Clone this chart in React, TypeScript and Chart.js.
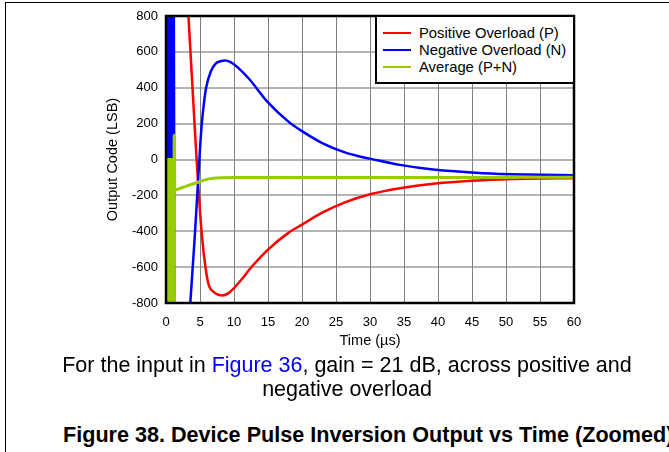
import React, { useEffect, useRef, useState } from "react";
import { Chart, registerables } from "chart.js";

Chart.register(...registerables);

// ---- data ----
const xTickValues = [0, 5, 10, 15, 20, 25, 30, 35, 40, 45, 50, 55, 60];
const yTickValues = [-800, -600, -400, -200, 0, 200, 400, 600, 800];

const seriesNames = ["Positive Overload (P)", "Negative Overload (N)", "Average (P+N)"];
const seriesColors = ["#ff0000", "#0000ff", "#99cc00"];

// initial overload burst (0 - 1.2 us)
const burstT = [0.15, 0.2, 0.25, 0.3, 0.35, 0.4, 0.45, 0.5, 0.55, 0.6, 0.65, 0.7, 0.75, 0.8, 0.85, 0.9, 0.95, 1.0, 1.05, 1.1, 1.15, 1.2];
const blueBurstV = [900, 0, 900, 0, 900, 0, 900, 0, 900, 0, 900, 0, 900, 0, 900, 0, 900, 0, 900, 0, 900, 0];
const greenBurstV = [-900, 0, -900, 0, -900, 0, -900, 0, -900, 0, -900, 0, -900, 0, -900, 0, -900, 0, -900, 0, -900, 135];

const redT = [1.2, 2.5, 3.3, 4.0, 4.5, 5.25, 5.85, 6.33, 7.0, 7.7, 8.3, 9.2, 10.7, 12.7, 15, 18, 20, 22.9, 26.4, 30, 34.4, 39.3, 46.6, 53, 60];
const redV = [3000, 1330, 800, 332, 0, -411, -613, -705, -738, -754, -758, -745, -687, -594, -502, -409, -363, -298, -238, -194, -160, -135, -116, -108, -104];

const blueT = [1.22, 3.0, 3.6, 4.26, 4.75, 5.2, 5.6, 5.9, 6.6, 7.3, 8.0, 8.67, 9.5, 10.5, 12.2, 15, 18, 20, 22.9, 26.4, 28.5, 30, 34.4, 39.3, 46.6, 53, 60];
const blueV = [-3000, -1130, -785, -411, -97, 170, 320, 400, 492, 535, 548, 552, 543, 515, 450, 318, 211, 158, 93, 38, 17, 5, -30, -56, -76, -84, -88];

const greenT = [1.3, 2.0, 3.0, 4.4, 5.9, 7.0, 8.0, 10, 15, 20, 25, 30, 35, 40, 45, 50, 55, 60];
const greenV = [-170, -162, -148, -131, -112, -105, -102, -100, -100, -101, -100, -101, -100, -100, -100, -100, -99, -99];

const FONT = '"Liberation Sans", Arial, sans-serif';

function pts(t: number[], v: number[]) {
  return t.map((x, i) => ({ x, y: v[i] }));
}

const framePlugin = {
  id: "frameBox",
  afterDatasetsDraw(chart: any) {
    const { ctx, chartArea } = chart;
    const { left, top, right, bottom } = chartArea;
    ctx.save();
    ctx.strokeStyle = "#000";
    ctx.lineWidth = 2.5;
    ctx.strokeRect(left, top, right - left, bottom - top);
    ctx.restore();
  },
};

type GridInfo = { xs: number[]; ys: number[]; left: number; top: number; right: number; bottom: number };

function ChartCanvas({ onGrid }: { onGrid: (g: GridInfo) => void }) {
  const ref = useRef<HTMLCanvasElement>(null);

  useEffect(() => {
    if (!ref.current) return;
    const red = pts(redT, redV);
    const blue = pts(burstT, blueBurstV).concat(pts(blueT, blueV));
    const green = pts(burstT, greenBurstV).concat(pts(greenT, greenV));
    const chart = new Chart(ref.current, {
      type: "line",
      data: {
        datasets: [
          { label: seriesNames[2], data: green, borderColor: seriesColors[2], borderWidth: 3, pointRadius: 0, cubicInterpolationMode: "monotone", order: 0 },
          { label: seriesNames[1], data: blue, borderColor: seriesColors[1], borderWidth: 2.5, pointRadius: 0, cubicInterpolationMode: "monotone", order: 1 },
          { label: seriesNames[0], data: red, borderColor: seriesColors[0], borderWidth: 2.5, pointRadius: 0, cubicInterpolationMode: "monotone", order: 2 },
        ],
      },
      options: {
        animation: false,
        responsive: false,
        events: [],
        layout: { padding: { left: 104, top: 16, right: 95, bottom: 2 } },
        plugins: { legend: { display: false }, tooltip: { enabled: false } },
        scales: {
          x: {
            type: "linear",
            min: 0,
            max: 60,
            afterBuildTicks: (axis: any) => {
              axis.ticks = xTickValues.map((v) => ({ value: v }));
            },
            afterFit: (axis: any) => {
              axis.height = 47;
            },
            grid: { display: false, drawTicks: false },
            border: { display: false },
            ticks: { color: "#000", padding: 12, font: { family: FONT, size: 13 }, maxRotation: 0, autoSkip: false },
            title: { display: true, text: "Time (µs)", color: "#000", padding: 0, font: { family: FONT, size: 14.5 } },
          },
          y: {
            type: "linear",
            min: -800,
            max: 800,
            afterBuildTicks: (axis: any) => {
              axis.ticks = yTickValues.map((v) => ({ value: v }));
            },
            afterFit: (axis: any) => {
              axis.width = 62;
            },
            grid: { display: false, drawTicks: false },
            border: { display: false },
            ticks: { color: "#000", padding: 8, font: { family: FONT, size: 13 }, autoSkip: false },
            title: { display: true, text: "Output Code (LSB)", color: "#000", padding: 0, font: { family: FONT, size: 14.5 } },
          },
        },
      },
      plugins: [framePlugin],
    });
    const ca = chart.chartArea;
    onGrid({
      xs: xTickValues.map((v) => chart.scales.x.getPixelForValue(v)),
      ys: yTickValues.map((v) => chart.scales.y.getPixelForValue(v)),
      left: ca.left,
      top: ca.top,
      right: ca.right,
      bottom: ca.bottom,
    });
    return () => chart.destroy();
  }, []);

  return <canvas ref={ref} width={669} height={352} style={{ display: "block", position: "relative" }} />;
}

export default function App() {
  const legendRowTops = [25, 41.5, 58.5];
  const [grid, setGrid] = useState<GridInfo | null>(null);

  return (
    <div
      style={{
        position: "fixed",
        left: 0,
        top: 0,
        width: 669,
        height: 452,
        overflow: "hidden",
        background: "#fff",
        fontFamily: FONT,
        color: "#000",
      }}
    >
      {grid &&
        grid.ys.map((y, i) => (
          <div
            key={"gy" + i}
            style={{
              position: "absolute",
              left: grid.left,
              top: Math.round(y) - 1,
              width: grid.right - grid.left,
              height: 2,
              background: "#b4b4b4",
            }}
          />
        ))}
      {grid &&
        grid.xs.map((x, i) => (
          <div
            key={"gx" + i}
            style={{
              position: "absolute",
              left: Math.round(x) - 0.5,
              top: grid.top,
              width: 1.5,
              height: grid.bottom - grid.top,
              background: "#808080",
            }}
          />
        ))}
      <div style={{ position: "absolute", left: 0, top: 0 }}>
        <ChartCanvas onGrid={setGrid} />
      </div>
      <div
        style={{
          position: "absolute",
          left: 5,
          top: 2,
          width: 900,
          height: 1,
          borderTop: "1.5px solid #000",
        }}
      />
      <div
        style={{
          position: "absolute",
          left: 5,
          top: 2,
          width: 1,
          height: 700,
          borderLeft: "1.5px solid #000",
        }}
      />
      <div
        style={{
          position: "absolute",
          left: 375,
          top: 15,
          width: 200,
          height: 69,
          boxSizing: "border-box",
          border: "2px solid #000",
          background: "#fff",
        }}
      />
      {seriesNames.map((name, i) => (
        <React.Fragment key={name}>
          <div
            style={{
              position: "absolute",
              left: 383,
              top: legendRowTops[i] + 7,
              width: 28,
              height: 2,
              background: seriesColors[i],
            }}
          />
          <div
            style={{
              position: "absolute",
              left: 419,
              top: legendRowTops[i],
              height: 16,
              lineHeight: "16px",
              fontSize: 14.8,
              whiteSpace: "nowrap",
            }}
          >
            {name}
          </div>
        </React.Fragment>
      ))}
      <div
        style={{
          position: "absolute",
          left: 0,
          top: 353,
          width: 694,
          textAlign: "center",
          fontSize: 21.5,
          lineHeight: "24px",
        }}
      >
        For the input in <span style={{ color: "#0000ff" }}>Figure 36</span>, gain = 21 dB, across positive and
        <br />
        negative overload
      </div>
      <div
        style={{
          position: "absolute",
          left: 63,
          top: 422,
          fontSize: 21.6,
          fontWeight: "bold",
          lineHeight: "26px",
          whiteSpace: "nowrap",
        }}
      >
        Figure 38. Device Pulse Inversion Output vs Time (Zoomed)
      </div>
    </div>
  );
}
